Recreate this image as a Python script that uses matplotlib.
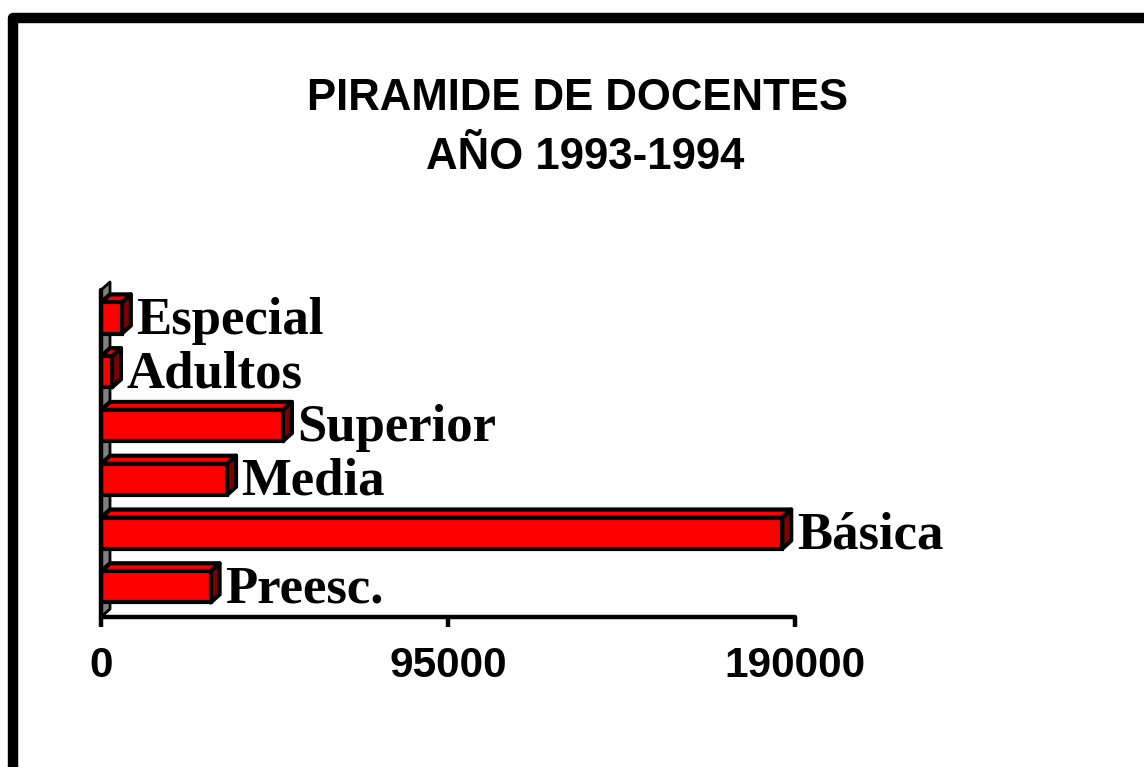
import matplotlib.pyplot as plt
from matplotlib.patches import Polygon
from matplotlib.lines import Line2D

# data
categories = ['Preesc.', 'Básica', 'Media', 'Superior', 'Adultos', 'Especial']
docentes = [30000, 186500, 34500, 49800, 3000, 5700]
xticks = [0, 95000, 190000]
title_lines = ['PIRAMIDE DE DOCENTES', 'AÑO 1993-1994']

W, H = 1144, 767
fig = plt.figure(figsize=(W / 100, H / 100), dpi=100)
fig.patch.set_facecolor('white')

# plot area in pixels
ax_l, ax_r, ax_t, ax_b = 101, 795, 290, 617
ax = fig.add_axes([ax_l / W, 1 - ax_b / H, (ax_r - ax_l) / W, (ax_b - ax_t) / H])
ax.set_xlim(0, 190000)
ax.set_ylim(-0.56, 5.52)

# 3d depth, in pixels -> data units
depth_px = (9, 8)
dx = depth_px[0] / (ax_r - ax_l) * 190000
dy = depth_px[1] / (ax_b - ax_t) * (5.52 + 0.56)
bar_h = 0.58
lw = 3.0

# side wall
ylo, yhi = ax.get_ylim()
wall = Polygon([(0, ylo), (0, yhi), (dx, yhi + dy), (dx, ylo + dy)],
               closed=True, facecolor='#808080', edgecolor='black', lw=2,
               joinstyle='round', clip_on=False, zorder=1)
ax.add_patch(wall)

pos = list(range(len(categories)))
for y, v in zip(pos, docentes):
    top = Polygon([(0, y + bar_h / 2), (v, y + bar_h / 2), (v + dx, y + bar_h / 2 + dy),
                   (dx, y + bar_h / 2 + dy)], closed=True, facecolor='#ff0000',
                  edgecolor='black', lw=lw, joinstyle='round', clip_on=False, zorder=2)
    side = Polygon([(v, y - bar_h / 2), (v, y + bar_h / 2), (v + dx, y + bar_h / 2 + dy),
                    (v + dx, y - bar_h / 2 + dy)], closed=True, facecolor='#800000',
                   edgecolor='black', lw=lw, joinstyle='round', clip_on=False, zorder=2)
    ax.add_patch(top)
    ax.add_patch(side)

ax.barh(pos, docentes, height=bar_h, color='#ff0000', edgecolor='black',
        linewidth=lw, zorder=3)

for y, v, name in zip(pos, docentes, categories):
    ax.text(v + dx + 1500, y - bar_h / 2, name, ha='left', va='baseline',
            fontsize=38, fontweight='bold', family='Liberation Serif', zorder=4)

for s in ['top', 'right']:
    ax.spines[s].set_visible(False)
for s in ['left', 'bottom']:
    ax.spines[s].set_linewidth(3.2)
    ax.spines[s].set_zorder(5)
    ax.spines[s].set_capstyle('round')

ax.set_yticks([])
ax.set_xticks(xticks)
ax.set_xticklabels([str(t) for t in xticks], fontsize=30.5, fontweight='bold',
                   family='Liberation Sans')
ax.tick_params(axis='x', direction='out', length=7, width=3.2, pad=14)
ax.patch.set_alpha(0)

# title
fig.text(578 / W, 1 - 110 / H, title_lines[0], ha='center', va='baseline',
         fontsize=31.5, fontweight='bold', family='Liberation Sans')
fig.text(585 / W, 1 - 169 / H, title_lines[1], ha='center', va='baseline',
         fontsize=31.5, fontweight='bold', family='Liberation Sans')

# chart border (only left and top visible in the crop)
fig.add_artist(Line2D([13 / W, 13 / W, 1.05], [-0.05, 1 - 17.5 / H, 1 - 17.5 / H],
                      transform=fig.transFigure, color='black', lw=7.5,
                      solid_joinstyle='round', solid_capstyle='butt'))

fig.savefig('out.png', dpi=100)
